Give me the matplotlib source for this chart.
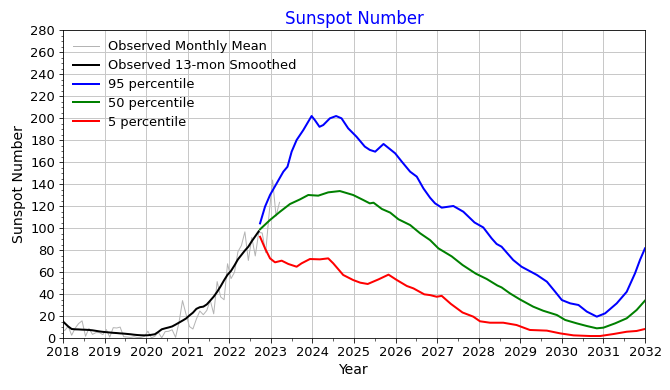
import matplotlib
matplotlib.use("Agg")
import matplotlib.pyplot as plt
from matplotlib.ticker import MultipleLocator
import numpy as np

# Observed monthly mean sunspot number (Dec 2017 .. Mar 2023)
monthly_start = 2017 + 11 / 12
monthly_vals = [
    8.2,
    6.8, 10.7, 2.5, 8.9, 13.1, 15.6, 1.6, 8.7, 3.3, 4.9, 4.9, 3.1,
    7.7, 0.8, 9.4, 9.1, 9.9, 1.2, 0.9, 0.5, 1.1, 0.4, 0.5, 1.5,
    6.2, 0.2, 1.5, 5.2, 0.2, 5.8, 6.1, 7.5, 0.6, 14.4, 34.0, 21.8,
    10.4, 8.2, 17.2, 24.5, 21.2, 25.0, 34.3, 22.0, 51.3, 37.4, 34.8, 67.5,
    54.0, 59.7, 78.5, 84.1, 96.5, 70.5, 91.4, 74.6, 96.0, 95.5, 77.6, 113.1,
    143.6, 110.9, 123.3,
]

# Observed 13-month smoothed (Dec 2017 .. Sep 2022)
smoothed_vals = [
    16.5,
    13.5, 10.5, 8.2, 7.9, 7.8, 7.6, 7.5, 7.3, 7.0, 6.5, 6.0, 5.6,
    5.3, 5.0, 4.7, 4.5, 4.2, 4.0, 3.7, 3.4, 3.0, 2.7, 2.5, 2.4,
    2.5, 2.9, 3.4, 5.5, 7.9, 8.8, 9.6, 10.5, 12.2, 14.0, 15.8, 17.7,
    20.5, 23.0, 26.5, 28.0, 28.5, 30.5, 34.0, 37.6, 42.0, 47.0, 52.5, 57.5,
    61.0, 66.0, 71.5, 75.5, 79.5, 83.0, 88.0, 92.5, 97.0,
]

# Predicted percentiles
p95_x = [2022.74, 2022.86, 2022.98, 2023.14, 2023.30, 2023.40, 2023.50, 2023.62,
         2023.78, 2023.90, 2023.98, 2024.06, 2024.17, 2024.26, 2024.42, 2024.57,
         2024.70, 2024.86, 2025.06, 2025.26, 2025.38, 2025.51, 2025.71, 2025.99,
         2026.15, 2026.35, 2026.51, 2026.67, 2026.83, 2026.95, 2027.11, 2027.39,
         2027.63, 2027.90, 2028.11, 2028.31, 2028.43, 2028.55, 2028.83, 2029.03,
         2029.40, 2029.64, 2029.84, 2030.00, 2030.20, 2030.40, 2030.60, 2030.84,
         2031.04, 2031.32, 2031.56, 2031.76, 2031.88, 2032.00]
p95_y = [104.2, 119.4, 130.0, 140.6, 151.2, 155.7, 169.4, 180.0,
         189.0, 196.7, 201.8, 198.0, 192.0, 193.6, 199.7, 201.8,
         199.7, 190.6, 183.0, 174.0, 171.0, 169.4, 176.4, 167.9,
         160.3, 151.2, 146.7, 136.0, 127.5, 122.4, 118.5, 120.0,
         114.8, 105.0, 100.5, 90.6, 85.5, 83.0, 70.9, 64.8,
         57.3, 51.2, 42.0, 34.5, 31.5, 30.0, 24.0, 19.4,
         22.4, 31.5, 42.0, 58.8, 71.0, 81.5]

p50_x = [2022.74, 2022.98, 2023.22, 2023.46, 2023.70, 2023.90, 2024.14, 2024.38,
         2024.66, 2024.98, 2025.22, 2025.38, 2025.47, 2025.67, 2025.87, 2026.07,
         2026.35, 2026.59, 2026.83, 2027.03, 2027.35, 2027.61, 2027.93, 2028.19,
         2028.45, 2028.55, 2028.75, 2028.99, 2029.31, 2029.55, 2029.88, 2030.08,
         2030.36, 2030.60, 2030.84, 2031.00, 2031.28, 2031.56, 2031.80, 2032.00]
p50_y = [98.8, 107.3, 114.8, 121.8, 126.0, 130.0, 129.4, 132.4,
         133.6, 130.0, 125.5, 122.4, 123.0, 117.3, 114.0, 107.9,
         102.7, 95.2, 89.0, 81.5, 74.2, 66.4, 58.5, 53.7,
         47.7, 46.0, 40.6, 35.1, 28.5, 24.8, 20.9, 16.4,
         13.3, 10.9, 8.8, 9.4, 13.3, 17.9, 25.5, 34.0]

p5_x = [2022.74, 2022.86, 2022.98, 2023.10, 2023.26, 2023.42, 2023.62, 2023.74,
        2023.94, 2024.18, 2024.38, 2024.50, 2024.74, 2024.98, 2025.15, 2025.33,
        2025.59, 2025.83, 2026.03, 2026.27, 2026.43, 2026.69, 2026.83, 2026.99,
        2027.11, 2027.33, 2027.61, 2027.87, 2028.03, 2028.27, 2028.59, 2028.91,
        2029.23, 2029.64, 2029.96, 2030.28, 2030.68, 2030.92, 2031.24, 2031.56,
        2031.80, 2032.00]
p5_y = [92.0, 81.5, 72.4, 68.8, 70.3, 67.3, 64.8, 67.9,
        71.8, 71.5, 72.4, 67.9, 57.3, 52.7, 50.3, 49.1,
        53.3, 57.6, 52.7, 47.3, 45.1, 39.7, 39.0, 37.5,
        38.3, 31.0, 23.2, 19.4, 15.2, 13.9, 13.9, 11.8,
        7.3, 6.7, 4.2, 2.4, 1.8, 1.8, 3.6, 5.7,
        6.4, 8.2]

x_ticks = list(range(2018, 2033))
y_ticks = list(range(0, 281, 20))

monthly_x = monthly_start + (np.arange(len(monthly_vals)) + 0.5) / 12
smoothed_x = monthly_start + (np.arange(len(smoothed_vals)) + 0.5) / 12

fig = plt.figure(figsize=(670 / 72, 390 / 72), dpi=72)
ax = fig.add_axes([63 / 670, 1 - 338 / 390, (645 - 63) / 670, (338 - 30) / 390])

ax.plot(monthly_x, monthly_vals, color="#b4b4b4", lw=1.0, label="Observed Monthly Mean")
ax.plot(smoothed_x, smoothed_vals, color="black", lw=2.0, label="Observed 13-mon Smoothed")
ax.plot(p95_x, p95_y, color="blue", lw=2.0, label="95 percentile")
ax.plot(p50_x, p50_y, color="green", lw=2.0, label="50 percentile")
ax.plot(p5_x, p5_y, color="red", lw=2.0, label="5 percentile")

ax.set_xlim(2018, 2032)
ax.set_ylim(0, 280)
ax.set_xticks(x_ticks)
ax.set_yticks(y_ticks)
ax.xaxis.set_minor_locator(MultipleLocator(0.5))
ax.yaxis.set_minor_locator(MultipleLocator(5))
ax.tick_params(which="major", length=4.5, labelsize=13)
ax.tick_params(which="minor", length=2.5)
ax.grid(True, which="major", color="#c8c8c8", lw=1.0)
ax.set_axisbelow(True)

ax.set_xlabel("Year", fontsize=14)
ax.set_ylabel("Sunspot Number", fontsize=14)
ax.set_title("Sunspot Number", color="blue", fontsize=16.5)

ax.legend(loc="upper left", frameon=False, fontsize=13, handlelength=2.0,
          labelspacing=0.45, handletextpad=0.7, borderaxespad=0.4)

fig.savefig("out.png", dpi=72)
